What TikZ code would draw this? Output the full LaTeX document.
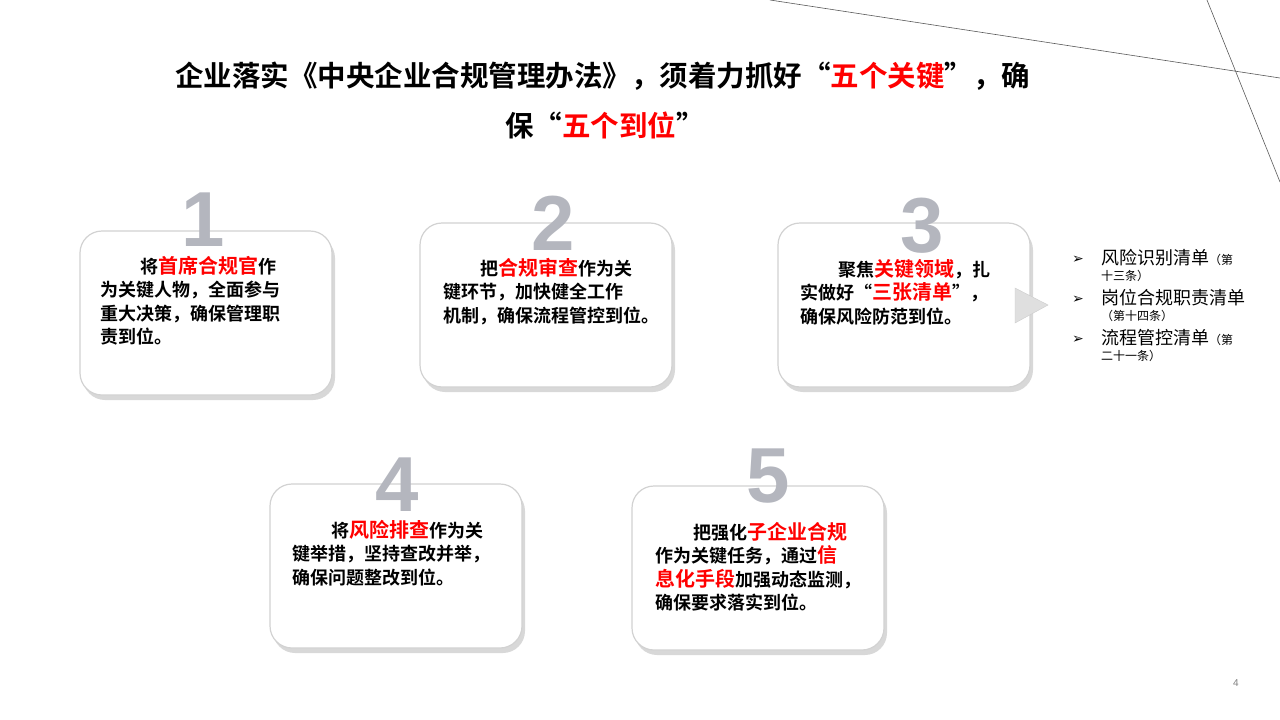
\documentclass[tikz,border=0pt]{standalone}
\usepackage{fontspec}
\newfontfamily\cjk{Noto Sans CJK SC}[BoldFont={Noto Sans CJK SC Bold}]
\newfontfamily\cjkl{Noto Sans CJK SC}
\newfontfamily\dv{DejaVu Sans}
\setmainfont{Liberation Sans}
\usetikzlibrary{shadows}
\definecolor{kred}{HTML}{FF0000}
\definecolor{numgray}{HTML}{B4B6BE}
\tikzset{
  card/.style={draw=gray!35, line width=1.2pt, fill=white, rounded corners=22pt,
    drop shadow={shadow xshift=3pt, shadow yshift=-5pt, opacity=0.3, fill=gray}},
  bignum/.style={font=\fontsize{78}{78}\selectfont\bfseries, text=numgray, inner sep=0pt},
  body/.style={anchor=north west, text width=210pt, align=left, inner sep=0pt,
    font=\cjk\bfseries\fontsize{18}{23.5}\selectfont},
  li/.style={anchor=north west, inner sep=0pt, font=\cjkl\fontsize{18}{20}\selectfont, text width=190pt, align=left},
  arr/.style={font=\dv\fontsize{14}{14}\selectfont}
}
\newcommand{\rr}[1]{\textcolor{kred}{\fontsize{20}{23.5}\selectfont #1}}
\begin{document}
\begin{tikzpicture}[x=1pt,y=-1pt]
\useasboundingbox (0,0) rectangle (1280,720);
\fill[white] (0,0) rectangle (1280,720);
\coordinate (l1a) at (770,0); \coordinate (l1b) at (1280,78);
\coordinate (l2a) at (1207,0); \coordinate (l2b) at (1280,182);
\draw[gray!70!black, line width=0.6pt] (l1a) -- (l1b) (l2a) -- (l2b);
\node[font=\cjk\bfseries\fontsize{28.5}{28.5}\selectfont, anchor=west, inner sep=0pt] (t1) at (175,76)
  {企业落实《中央企业合规管理办法》，须着力抓好“\textcolor{kred}{五个关键}”，确};
\node[font=\cjk\bfseries\fontsize{28.5}{28.5}\selectfont, anchor=west, inner sep=0pt] (t2) at (505,125)
  {保“\textcolor{kred}{五个到位}”};
% cards
\draw[card] (80,231) rectangle (332,395); \node[bignum] (n1) at (203,220) {1};
\draw[card] (420,223) rectangle (672,387); \node[bignum] (n2) at (553,223) {2};
\draw[card] (778,223) rectangle (1030,387); \node[bignum] (n3) at (922,226) {3};
\draw[card] (270,484) rectangle (522,648); \node[bignum] (n4) at (397,485) {4};
\draw[card] (632,486) rectangle (884,650); \node[bignum] (n5) at (768,476) {5};
\node[body] (b1) at (100,256) {\hspace*{40pt}将\rr{首席合规官}作\\为关键人物，全面参与\\重大决策，确保管理职\\责到位。};
\node[body] (b2) at (443,258) {\hspace*{37pt}把\rr{合规审查}作为关\\键环节，加快健全工作\\机制，确保流程管控到位。};
\node[body] (b3) at (800,259) {\hspace*{38pt}聚焦\rr{关键领域}，扎\\实做好“\rr{三张清单}”，\\确保风险防范到位。};
\node[body] (b4) at (292,520) {\hspace*{39pt}将\rr{风险排查}作为关\\键举措，坚持查改并举，\\确保问题整改到位。};
\node[body] (b5) at (655,522) {\hspace*{38pt}把强化\rr{子企业合规}\\作为关键任务，通过\rr{信}\\\rr{息化手段}加强动态监测，\\确保要求落实到位。};
% triangle
\coordinate (ta) at (1015,288); \coordinate (tb) at (1015,323); \coordinate (tc) at (1048,305);
\fill[gray!25] (ta) -- (tb) -- (tc) -- cycle;
\draw[gray!40] (ta) -- (tb) -- (tc) -- cycle;
\node[arr] (a1) at (1078,260) {➢};
\node[arr] (a2) at (1078,300) {➢};
\node[arr] (a3) at (1078,340) {➢};
\node[li] (s1) at (1101,249) {风险识别清单{\fontsize{12}{20}\selectfont（第}\\[-4pt]{\fontsize{12}{14}\selectfont 十三条）}};
\node[li] (s2) at (1101,289) {岗位合规职责清单\\[-4pt]{\fontsize{12}{14}\selectfont （第十四条）}};
\node[li] (s3) at (1101,329) {流程管控清单{\fontsize{12}{20}\selectfont（第}\\[-4pt]{\fontsize{12}{14}\selectfont 二十一条）}};
\node[font=\fontsize{10}{10}\selectfont, text=gray] (pg) at (1236,683) {4};
\end{tikzpicture}
\end{document}
